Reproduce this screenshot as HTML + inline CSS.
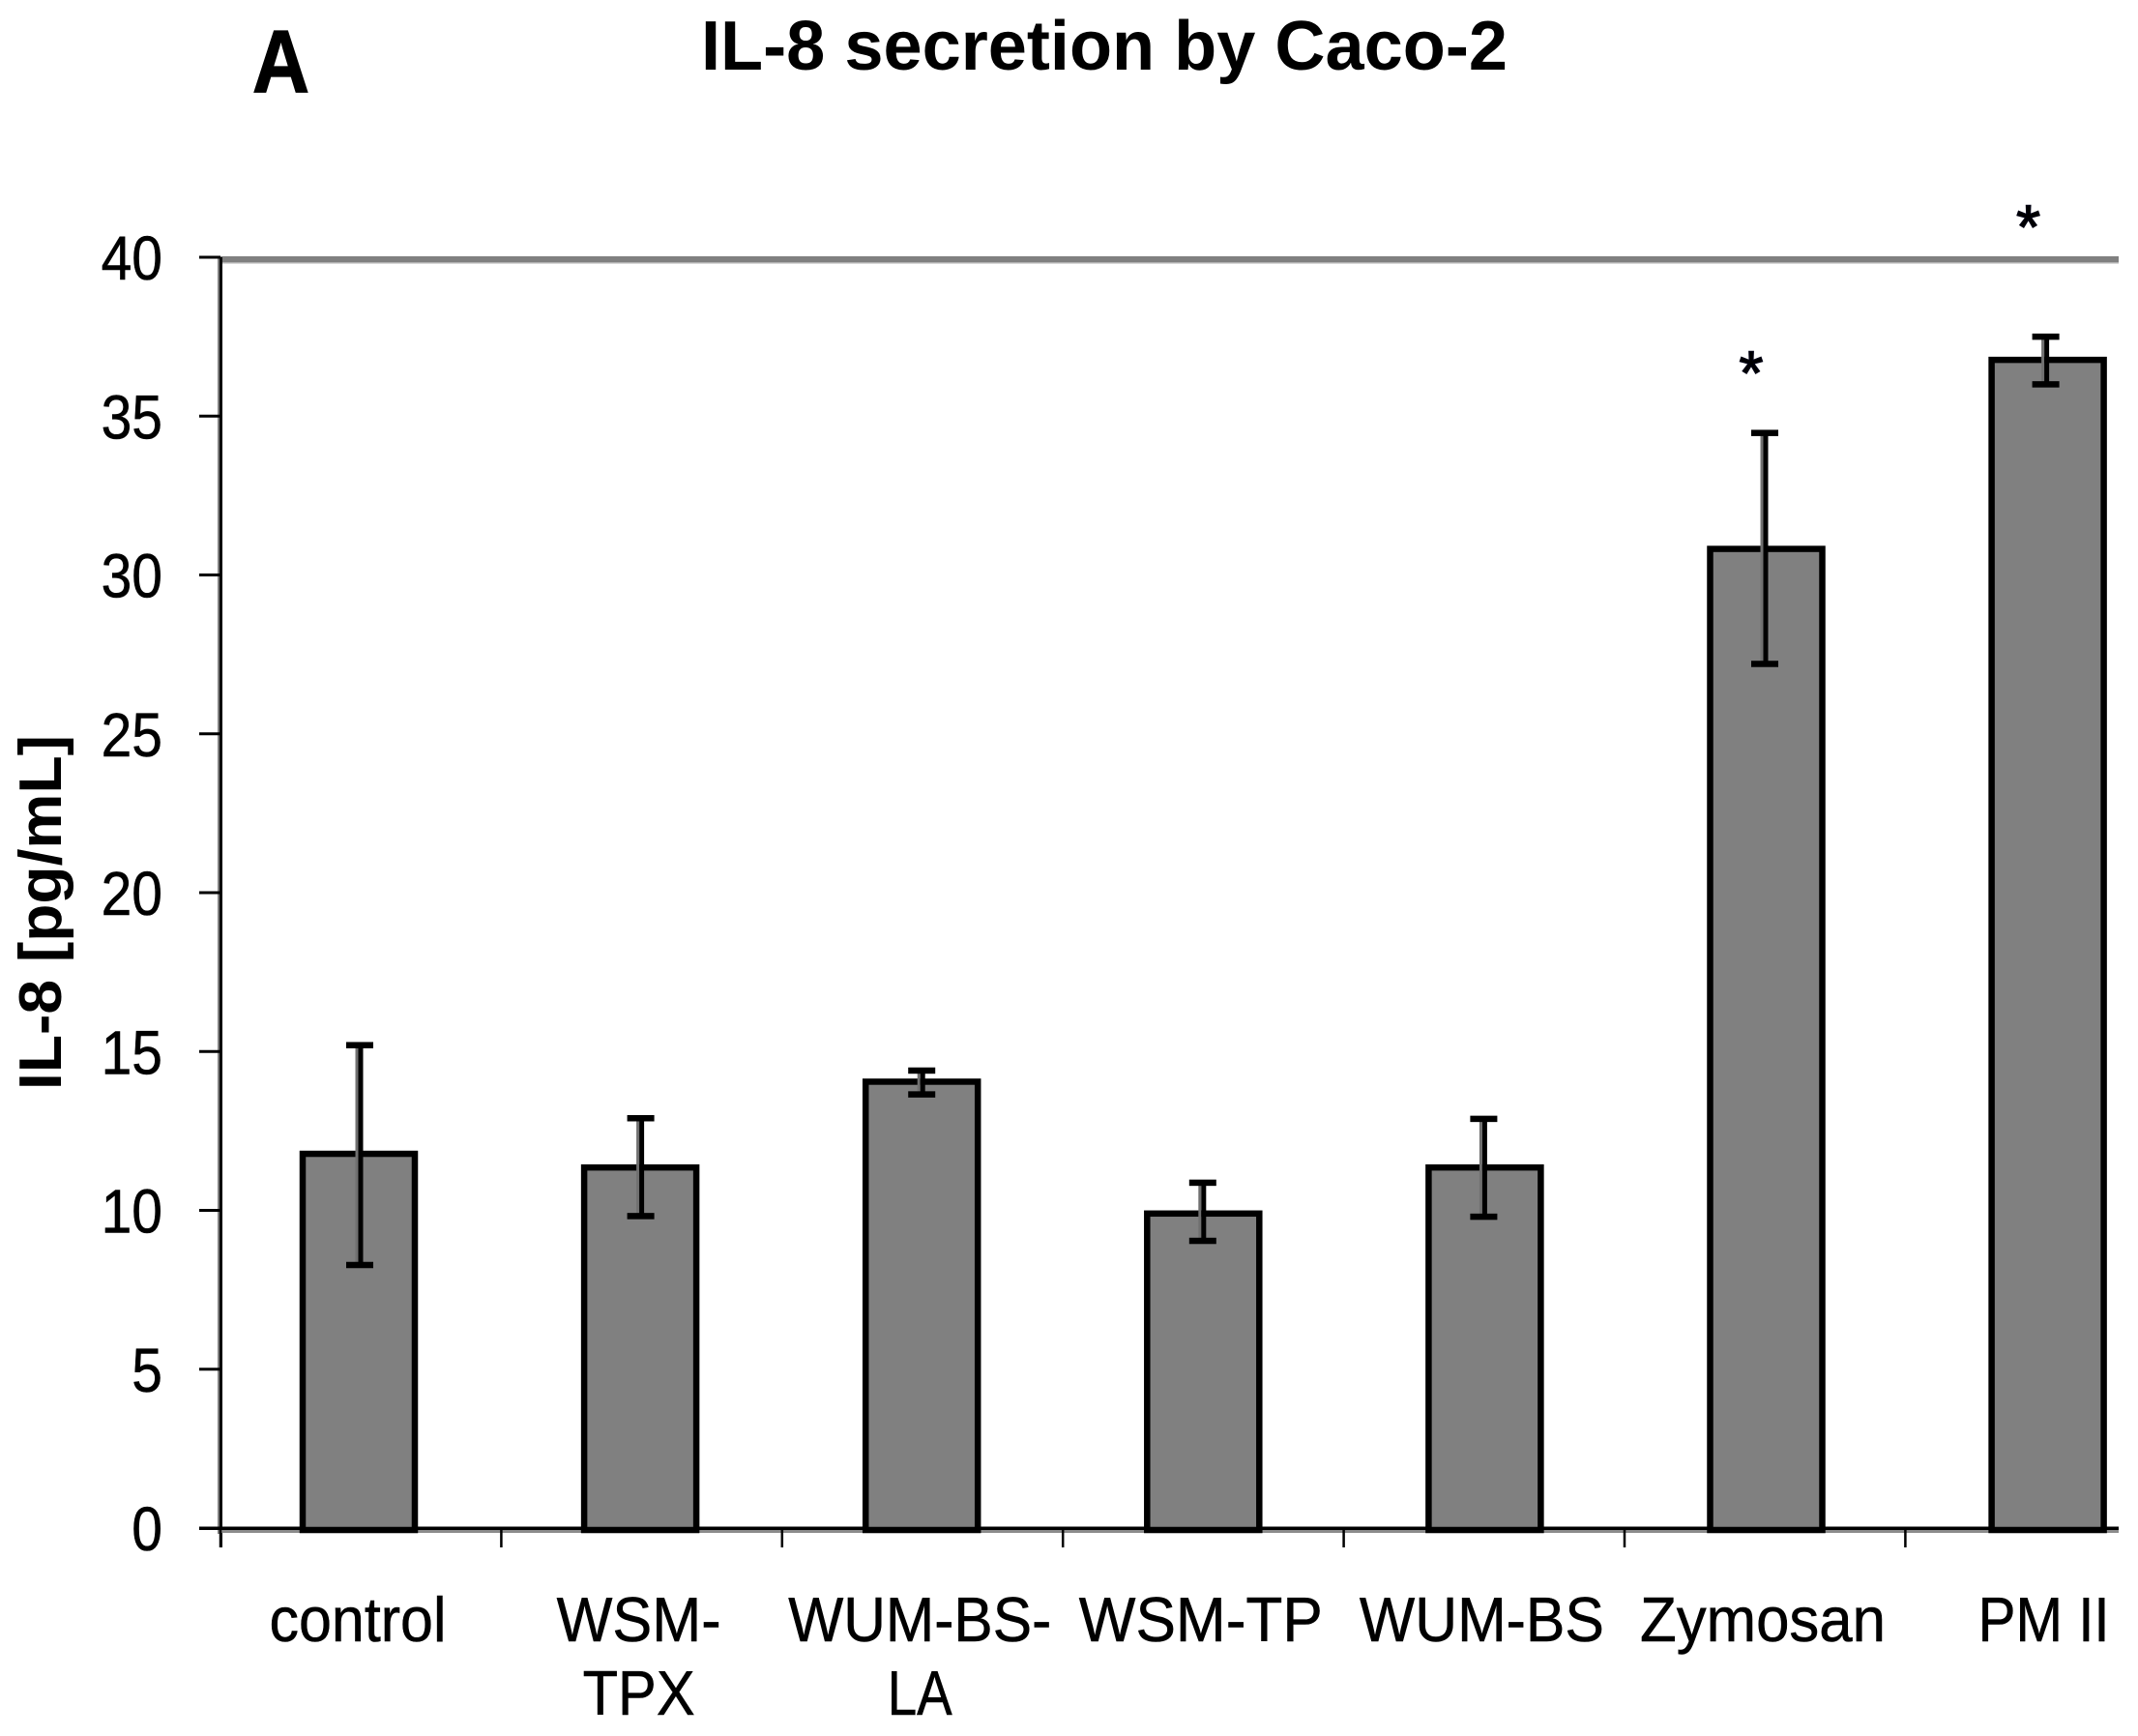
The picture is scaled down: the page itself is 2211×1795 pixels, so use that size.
<!DOCTYPE html>
<html lang="en">
<head>
<meta charset="utf-8">
<title>IL-8 secretion by Caco-2</title>
<style>
html,body{margin:0;padding:0;background:#fff;width:2211px;height:1795px;overflow:hidden}
svg{display:block}
text{font-family:"Liberation Sans",sans-serif;fill:#000}
</style>
</head>
<body>
<svg id="chart" xmlns="http://www.w3.org/2000/svg" width="2211" height="1795" viewBox="0 0 2211 1795">
  <rect x="0" y="0" width="2211" height="1795" fill="#fff"/>
  <text transform="translate(261,95) scale(1,1.12)" font-size="82" font-weight="bold" textLength="59" lengthAdjust="spacingAndGlyphs" stroke="#000" stroke-width="1.2">A</text>
  <text x="725" y="72" font-size="72" font-weight="bold" textLength="834" lengthAdjust="spacingAndGlyphs">IL-8 secretion by Caco-2</text>
  <text transform="translate(63,1127) rotate(-90)" font-size="62" font-weight="bold" textLength="367" lengthAdjust="spacingAndGlyphs">IL-8 [pg/mL]</text>
  <g id="plot"></g>
</svg>
<script>
const categories = ["control", "WSM-TPX", "WUM-BS-LA", "WSM-TP", "WUM-BS", "Zymosan", "PM II"];
const labelLines = [["control"], ["WSM-", "TPX"], ["WUM-BS-", "LA"], ["WSM-TP"], ["WUM-BS"], ["Zymosan"], ["PM II"]];
const il8Values = [11.78, 11.35, 14.05, 9.9, 11.35, 30.82, 36.77];
const errorUpper = [15.2, 12.9, 14.4, 10.87, 12.88, 34.47, 37.5];
const errorLower = [8.28, 9.82, 13.65, 9.04, 9.8, 27.2, 36.0];
const yTickLabels = [0, 5, 10, 15, 20, 25, 30, 35, 40];
const significanceCategories = ["Zymosan", "PM II"];
const significanceLevels = [36.6, 41.2];

const svgNS = "http://www.w3.org/2000/svg";
const plot = document.getElementById("plot");
const labelFit = {"control":183,"WSM-":170,"TPX":116,"WUM-BS-":272,"LA":67,"WSM-TP":252,"WUM-BS":253,"Zymosan":254,"PM II":136};

function yScale(v){ return 1580 - 32.85 * v; }
function tickX(i){ return 228 + 290.4 * i; }
function barLeft(i){ return 310 + 291.1 * i; }
function errX(i){ return 372 + 290.6 * i; }
function labelX(i){ return 370 + 290.6 * i; }
function mk(tag, attrs){
  const el = document.createElementNS(svgNS, tag);
  for (const k in attrs) el.setAttribute(k, attrs[k]);
  plot.appendChild(el);
  return el;
}
function slug(s){ return s.toLowerCase().replace(/[^a-z0-9]+/g, "-"); }

/* frame */
let el = mk("rect", {x:228, y:yScale(40)-1, width:1963, height:6, fill:"#808080"});


el = mk("rect", {x:228, y:yScale(40)+5, width:1963, height:1.5, fill:"#b0b0b0"});


el = mk("rect", {x:225, y:yScale(40), width:2.5, height:1320, fill:"#808080"});


el = mk("rect", {x:227, y:yScale(40), width:3, height:1334, fill:"#000"});


el = mk("rect", {x:228, y:yScale(0)+2, width:1963, height:3, fill:"#8c8c8c"});


el = mk("rect", {x:206, y:yScale(0)-1.5, width:1985, height:3.5, fill:"#000"});



/* y ticks */
yTickLabels.forEach(function(t){
  const y = yScale(t);
  const tick = mk("rect", {x:206, y:y-1.5, width:22, height:3, fill:"#000"});
  
  
  const lab = mk("text", {transform:"translate(168," + (y + 23) + ") scale(1,1.13)", "font-size":57, "text-anchor":"end", stroke:"#000", "stroke-width":0.5});
  lab.textContent = String(t);
  
  
});

/* x ticks */
categories.forEach(function(c, i){
  const tick = mk("rect", {x:tickX(i)-1.25, y:yScale(0), width:2.5, height:20, fill:"#000"});
  
  
});

/* bars + error bars */
categories.forEach(function(c, i){
  const top = yScale(il8Values[i]);
  const bar = mk("rect", {x:barLeft(i)+3, y:top, width:116, height:yScale(0)+2-top, fill:"#808080", stroke:"#000", "stroke-width":6.5});
  
  
  const ex = errX(i), yu = yScale(errorUpper[i]), yl = yScale(errorLower[i]);
  const stemShade = mk("rect", {x:ex-4.5, y:yu, width:3, height:yl-yu, fill:"#707070"});
  
  
  const stem = mk("rect", {x:ex-1.5, y:yu, width:5, height:yl-yu, fill:"#000"});
  
  
  const capHi = mk("rect", {x:ex-14, y:yu-3.25, width:28, height:6.5, fill:"#000"});
  
  
  const capLo = mk("rect", {x:ex-14, y:yl-3.25, width:28, height:6.5, fill:"#000"});
  
  
});

/* category labels */
labelLines.forEach(function(lines, i){
  lines.forEach(function(line, j){
    const t = mk("text", {transform:"translate(" + labelX(i) + "," + (1697 + 76 * j) + ") scale(1,1.08)", "font-size":60, "text-anchor":"middle", textLength:labelFit[line], lengthAdjust:"spacingAndGlyphs", stroke:"#000", "stroke-width":0.5});
    t.textContent = line;
    
    
  });
});

/* significance stars */
significanceCategories.forEach(function(c, k){
  const i = categories.indexOf(c);
  const t = mk("text", {x:errX(i)-14-4*k, y:yScale(significanceLevels[k])+30, "font-size":64, "text-anchor":"middle", fill:"#000010", stroke:"#000010", "stroke-width":1.5});
  t.textContent = "*";
  
  
});
</script>
</body>
</html>
